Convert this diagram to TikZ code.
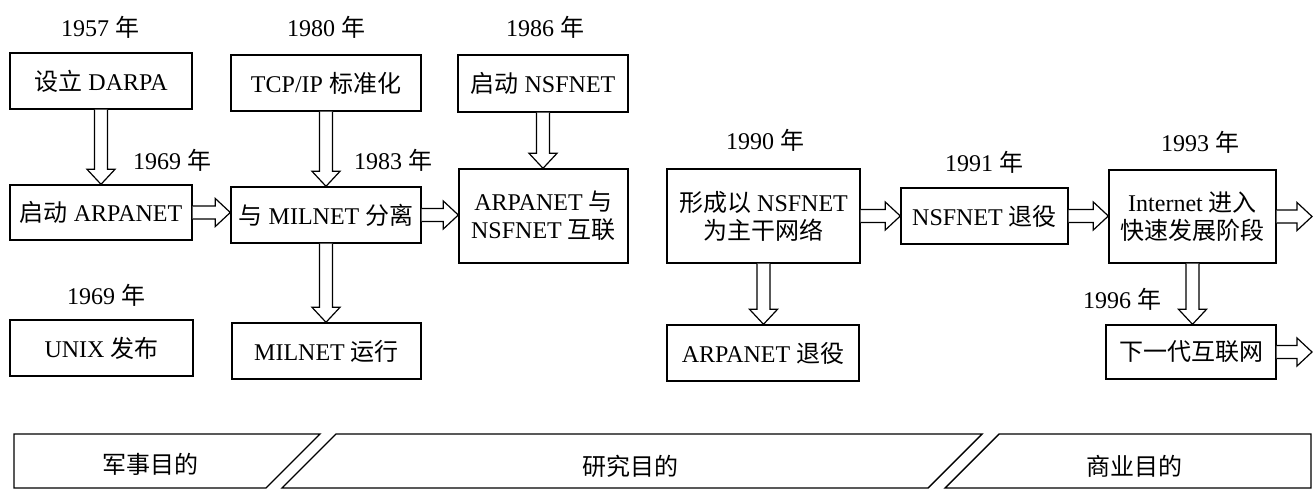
\documentclass[tikz,border=0pt]{standalone}
\usepackage{fontspec}
\setmainfont{Liberation Serif}
\newfontfamily\cjk{Noto Sans CJK SC}
\usetikzlibrary{calc}
\newcommand\mainfs{\fontsize{24}{28}\selectfont}
\newcommand\rarrow[2]{%
  \draw[arr] let \p1=(#1), \p2=(#2) in
    (\x1,\y1+6.5pt) -- (\x2-15pt,\y1+6.5pt) -- (\x2-15pt,\y1+14pt) -- (\x2,\y1)
    -- (\x2-15pt,\y1-14pt) -- (\x2-15pt,\y1-6.5pt) -- (\x1,\y1-6.5pt);}
\newcommand\darrow[2]{%
  \draw[arr] let \p1=(#1), \p2=(#2) in
    (\x1-6.5pt,\y1) -- (\x1-6.5pt,\y2+15pt) -- (\x1-14pt,\y2+15pt) -- (\x1,\y2)
    -- (\x1+14pt,\y2+15pt) -- (\x1+6.5pt,\y2+15pt) -- (\x1+6.5pt,\y1);}
\begin{document}
\begin{tikzpicture}[x=1pt,y=-1pt,
  box/.style={draw, line width=1.4pt, align=center, inner sep=0pt, font=\mainfs},
  lbl/.style={font=\mainfs, inner sep=0pt},
  arr/.style={draw, line width=1.2pt, fill=white, line join=miter},
  band/.style={draw, line width=1.4pt}]
\useasboundingbox (0,0) rectangle (1313,489);

% boxes
\node[box, minimum width=182pt, minimum height=56pt] (darpa) at (101,81) {{\cjk 设立} DARPA};
\node[box, minimum width=182pt, minimum height=55pt] (arpa) at (101,212.5) {{\cjk 启动} ARPANET};
\node[box, minimum width=183pt, minimum height=56pt] (unix) at (101.5,348) {UNIX {\cjk 发布}};
\node[box, minimum width=190pt, minimum height=56pt] (tcp) at (326,83) {TCP/IP {\cjk 标准化}};
\node[box, minimum width=190pt, minimum height=56pt] (sep) at (326,215) {{\cjk 与} MILNET {\cjk 分离}};
\node[box, minimum width=189pt, minimum height=56pt] (milrun) at (326.5,351) {MILNET {\cjk 运行}};
\node[box, minimum width=170pt, minimum height=57pt] (nsf) at (543,83.5) {{\cjk 启动} NSFNET};
\node[box, minimum width=169pt, minimum height=94pt] (inter) at (543.5,216) {ARPANET {\cjk 与}\\NSFNET {\cjk 互联}};
\node[box, minimum width=193pt, minimum height=94pt] (form) at (763.5,216) {{\cjk 形成以} NSFNET\\{\cjk 为主干网络}};
\node[box, minimum width=192pt, minimum height=56pt] (arparet) at (763,353) {ARPANET {\cjk 退役}};
\node[box, minimum width=167pt, minimum height=56pt] (nsfret) at (984.5,216) {NSFNET {\cjk 退役}};
\node[box, minimum width=167pt, minimum height=93pt] (internet) at (1192.5,216.5) {Internet {\cjk 进入}\\{\cjk 快速发展阶段}};
\node[box, minimum width=170pt, minimum height=54pt] (next) at (1191,352) {{\cjk 下一代互联网}};

% year labels
\node[lbl] (y1957) at (100,27) {1957 {\cjk 年}};
\node[lbl] (y1980) at (326,27) {1980 {\cjk 年}};
\node[lbl] (y1986) at (545,27) {1986 {\cjk 年}};
\node[lbl] (y1969a) at (172,160) {1969 {\cjk 年}};
\node[lbl] (y1983) at (393,160) {1983 {\cjk 年}};
\node[lbl] (y1969b) at (106,295) {1969 {\cjk 年}};
\node[lbl] (y1990) at (765,140) {1990 {\cjk 年}};
\node[lbl] (y1991) at (984,162) {1991 {\cjk 年}};
\node[lbl] (y1993) at (1200,142) {1993 {\cjk 年}};
\node[lbl] (y1996) at (1122,299) {1996 {\cjk 年}};

% arrows
\darrow{darpa.south}{arpa.north}
\darrow{tcp.south}{sep.north}
\darrow{sep.south}{milrun.north}
\darrow{nsf.south}{inter.north}
\darrow{form.south}{arparet.north}
\darrow{internet.south}{next.north}
\rarrow{arpa.east}{sep.west}
\rarrow{sep.east}{inter.west}
\rarrow{form.east}{nsfret.west}
\rarrow{nsfret.east}{internet.west}
\coordinate (out1) at (1312,218);
\coordinate (out2) at (1312,352);
\rarrow{internet.east}{out1}
\rarrow{next.east}{out2}

% bottom band
\draw[band] (14,434) -- (320,434) -- (266,488) -- (14,488) -- cycle;
\draw[band] (336,434) -- (982,434) -- (928,488) -- (282,488) -- cycle;
\draw[band] (999,434) -- (1311,434) -- (1311,488) -- (945,488) -- cycle;
\node[lbl] (mil) at (150,464) {\cjk 军事目的};
\node[lbl] (res) at (630,466) {\cjk 研究目的};
\node[lbl] (com) at (1134,466) {\cjk 商业目的};
\end{tikzpicture}
\end{document}
